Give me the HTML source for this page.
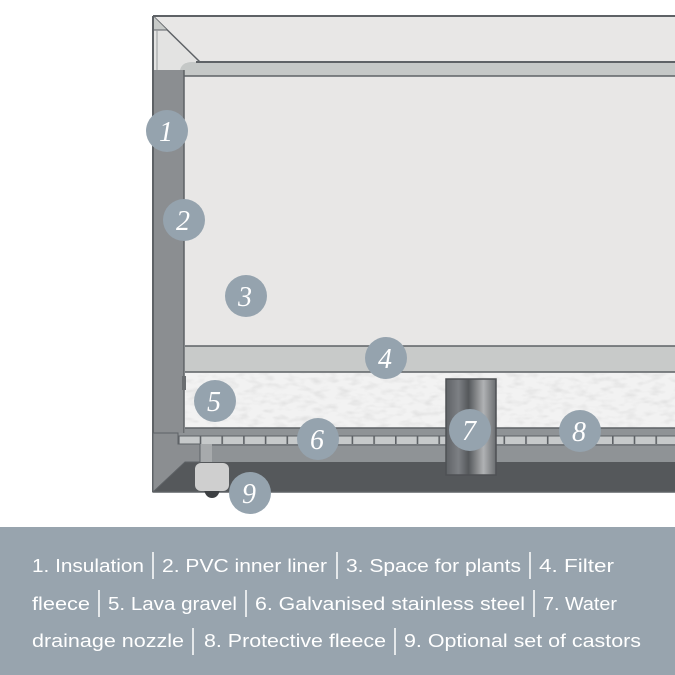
<!DOCTYPE html>
<html><head><meta charset="utf-8"><style>
html,body{margin:0;padding:0;background:#fff;width:675px;height:675px;overflow:hidden}
svg{display:block}
</style></head><body>
<svg width="675" height="675" viewBox="0 0 675 675" xmlns="http://www.w3.org/2000/svg">
<defs>
<pattern id="grid" x="178" y="0" width="21.7" height="675" patternUnits="userSpaceOnUse">
<rect x="0" y="436" width="21.7" height="8" fill="#c6c9ca"/>
<rect x="0" y="436" width="1.6" height="8" fill="#5e6266"/>
</pattern>
<linearGradient id="noz" x1="0" x2="1">
<stop offset="0" stop-color="#5f6266"/><stop offset="0.25" stop-color="#7d8084"/>
<stop offset="0.45" stop-color="#55585b"/><stop offset="0.75" stop-color="#b0b2b4"/>
<stop offset="1" stop-color="#6a6d70"/></linearGradient>
<filter id="tex" x="185" y="373" width="490" height="55" filterUnits="userSpaceOnUse">
<feTurbulence type="fractalNoise" baseFrequency="0.08 0.18" numOctaves="2" seed="3"/>
<feColorMatrix type="matrix" values="0 0 0 0 0.7 0 0 0 0 0.7 0 0 0 0 0.7 0 0 0 -2.5 1.4"/></filter>
<clipPath id="gc"><rect x="185" y="373" width="490" height="55"/></clipPath>
</defs>
<!-- interior -->
<rect x="153" y="16" width="522" height="476" fill="#e8e7e6"/>
<line x1="153" y1="16" x2="675" y2="16" stroke="#5e6266" stroke-width="2"/>
<!-- top corner -->
<polygon points="153,16 200,62 186,62 180,70 153,70" fill="#e3e3e2"/>
<line x1="153" y1="16" x2="200" y2="62" stroke="#5e6266" stroke-width="1.5"/>
<polygon points="153,16 167,30 153,30" fill="#c8cbc9"/>
<line x1="153" y1="30" x2="167" y2="30" stroke="#5e6266" stroke-width="1"/>
<line x1="157" y1="30" x2="157" y2="70" stroke="#9a9c9e" stroke-width="1"/>
<!-- top strip -->
<path d="M180,76 L180,70 Q182,62 192,62 L675,62 L675,76 Z" fill="#c5c8c7"/>
<line x1="196" y1="62" x2="675" y2="62" stroke="#5e6266" stroke-width="2"/>
<line x1="184" y1="76" x2="675" y2="76" stroke="#5e6266" stroke-width="1.5"/>
<!-- insulation -->
<rect x="153" y="70" width="31" height="392" fill="#8b8e91"/>
<line x1="153" y1="16" x2="153" y2="492" stroke="#5e6266" stroke-width="2"/>
<line x1="184" y1="70" x2="184" y2="433" stroke="#5e6266" stroke-width="1.5"/>
<!-- filter fleece -->
<rect x="185" y="346" width="490" height="26" fill="#c8cac9"/>
<line x1="185" y1="346" x2="675" y2="346" stroke="#5e6266" stroke-width="1.5"/>
<line x1="185" y1="372" x2="675" y2="372" stroke="#5e6266" stroke-width="1.5"/>
<!-- gravel -->
<rect x="185" y="373" width="490" height="55" fill="#f2f2f2"/>
<g clip-path="url(#gc)"><rect x="185" y="373" width="490" height="55" filter="url(#tex)" opacity="0.6"/></g>
<rect x="182" y="376" width="4" height="14" fill="#6a6d70"/>
<!-- lower bands -->
<rect x="185" y="428" width="490" height="34" fill="#8f9396"/>
<rect x="153" y="433" width="33" height="29" fill="#8f9396"/>
<rect x="178" y="436" width="497" height="8" fill="url(#grid)"/>
<line x1="185" y1="428" x2="675" y2="428" stroke="#5e6266" stroke-width="1.5"/>
<line x1="178" y1="436" x2="675" y2="436" stroke="#5e6266" stroke-width="1"/>
<line x1="212" y1="445" x2="675" y2="445" stroke="#5e6266" stroke-width="1"/>
<rect x="200" y="444" width="12" height="18" fill="#a7aaac"/>
<!-- bottom dark -->
<polygon points="153,492 185,462 675,462 675,492" fill="#55585b"/>
<polygon points="153,433 178,433 178,444 200,444 200,462 185,462 153,492" fill="#8b8e91" stroke="#5e6266" stroke-width="1"/>
<line x1="153" y1="492" x2="675" y2="492" stroke="#5e6266" stroke-width="1.5"/>
<!-- castor -->
<path d="M204,490 Q206,498 212,498 Q218,498 220,490 Z" fill="#3d4043"/>
<rect x="195" y="463" width="34" height="28" rx="6" fill="#cfcfcf"/>
<!-- nozzle -->
<rect x="446" y="379" width="50" height="96" fill="url(#noz)" stroke="#4e5154" stroke-width="1.5"/>
<!-- bubbles -->
<g fill="#95a3ae">
<circle cx="167" cy="131" r="21"/><circle cx="184" cy="220" r="21"/><circle cx="246" cy="296" r="21"/>
<circle cx="386" cy="358" r="21"/><circle cx="215" cy="401" r="21"/><circle cx="318" cy="439" r="21"/>
<circle cx="470" cy="430" r="21"/><circle cx="580" cy="431" r="21"/><circle cx="250" cy="493" r="21"/>
</g>
<g fill="#fff" font-family="Liberation Serif, serif" font-style="italic" font-size="28" text-anchor="middle">
<text x="166" y="141">1</text><text x="183" y="230">2</text><text x="245" y="306">3</text>
<text x="385" y="368">4</text><text x="214" y="411">5</text><text x="317" y="449">6</text>
<text x="469" y="440">7</text><text x="579" y="441">8</text><text x="249" y="503">9</text>
</g>
<!-- legend -->
<rect x="0" y="527" width="675" height="148" fill="#98a4ae"/>
<g fill="#fff" font-family="Liberation Sans, sans-serif" font-size="18" lengthAdjust="spacingAndGlyphs">
<text x="32" y="572" textLength="112" lengthAdjust="spacingAndGlyphs">1. Insulation</text>
<text x="162" y="572" textLength="165" lengthAdjust="spacingAndGlyphs">2. PVC inner liner</text>
<text x="346" y="572" textLength="175" lengthAdjust="spacingAndGlyphs">3. Space for plants</text>
<text x="539" y="572" textLength="75" lengthAdjust="spacingAndGlyphs">4. Filter</text>
<text x="32" y="610" textLength="58" lengthAdjust="spacingAndGlyphs">fleece</text>
<text x="108" y="610" textLength="129" lengthAdjust="spacingAndGlyphs">5. Lava gravel</text>
<text x="255" y="610" textLength="270" lengthAdjust="spacingAndGlyphs">6. Galvanised stainless steel</text>
<text x="543" y="610" textLength="74" lengthAdjust="spacingAndGlyphs">7. Water</text>
<text x="32" y="647" textLength="152" lengthAdjust="spacingAndGlyphs">drainage nozzle</text>
<text x="204" y="647" textLength="182" lengthAdjust="spacingAndGlyphs">8. Protective fleece</text>
<text x="404" y="647" textLength="237" lengthAdjust="spacingAndGlyphs">9. Optional set of castors</text>
</g>
<g stroke="#fff" stroke-width="1.5">
<line x1="153" y1="552" x2="153" y2="579"/><line x1="337" y1="552" x2="337" y2="579"/><line x1="530" y1="552" x2="530" y2="579"/>
<line x1="99" y1="590" x2="99" y2="617"/><line x1="246" y1="590" x2="246" y2="617"/><line x1="534" y1="590" x2="534" y2="617"/>
<line x1="193" y1="628" x2="193" y2="655"/><line x1="395" y1="628" x2="395" y2="655"/>
</g>
</svg>
</body></html>
